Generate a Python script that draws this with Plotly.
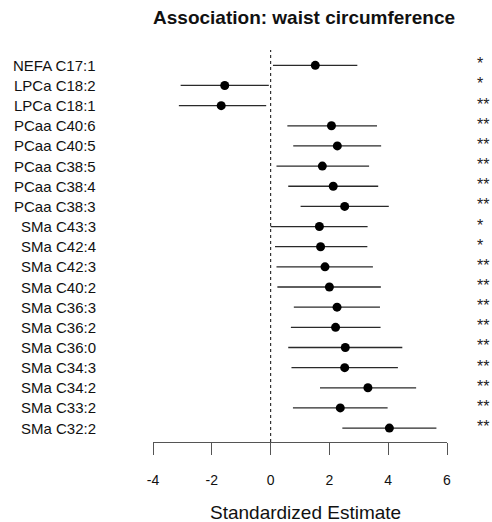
import plotly.graph_objects as go

# Metabolites (top to bottom) and their standardized estimates with 95% CI
metabolites = [
    "NEFA C17:1", "LPCa C18:2", "LPCa C18:1", "PCaa C40:6", "PCaa C40:5",
    "PCaa C38:5", "PCaa C38:4", "PCaa C38:3", "SMa C43:3", "SMa C42:4",
    "SMa C42:3", "SMa C40:2", "SMa C36:3", "SMa C36:2", "SMa C36:0",
    "SMa C34:3", "SMa C34:2", "SMa C33:2", "SMa C32:2",
]
estimate = [1.52, -1.56, -1.68, 2.07, 2.27, 1.76, 2.13, 2.52, 1.66, 1.70,
            1.85, 2.00, 2.26, 2.21, 2.54, 2.52, 3.31, 2.37, 4.04]
ci_low = [0.08, -3.06, -3.12, 0.57, 0.77, 0.20, 0.60, 1.02, 0.00, 0.15,
          0.20, 0.23, 0.79, 0.69, 0.60, 0.71, 1.68, 0.76, 2.44]
ci_high = [2.95, -0.06, -0.15, 3.62, 3.76, 3.35, 3.66, 4.02, 3.30, 3.29,
           3.48, 3.75, 3.72, 3.74, 4.48, 4.33, 4.95, 3.98, 5.64]
significance = ["*", "*", "**", "**", "**", "**", "**", "**", "*", "*",
                "**", "**", "**", "**", "**", "**", "**", "**", "**"]
x_ticks = [-4, -2, 0, 2, 4, 6]

FONT = "Liberation Sans"
rows = list(range(len(metabolites)))

fig = go.Figure()

# Point estimates with confidence intervals
fig.add_trace(go.Scatter(
    x=estimate,
    y=rows,
    mode="markers",
    marker=dict(color="black", size=9),
    error_x=dict(
        type="data",
        symmetric=False,
        array=[h - e for h, e in zip(ci_high, estimate)],
        arrayminus=[e - l for e, l in zip(estimate, ci_low)],
        color="#2a2a2a",
        thickness=1.3,
        width=0,
    ),
    showlegend=False,
    hoverinfo="skip",
))

# Reference line at zero
fig.add_shape(
    type="line", xref="x", yref="paper",
    x0=0, x1=0, y0=0, y1=1,
    line=dict(color="#333", width=1.2, dash="dot"),
)

annotations = []
# Row labels, right-aligned left of the plot
for r, name in zip(rows, metabolites):
    annotations.append(dict(
        text=name, xref="paper", yref="y", x=-0.188, y=r,
        xanchor="right", yanchor="middle", showarrow=False,
        font=dict(family=FONT, size=15, color="#111"),
    ))
# Significance stars, left-aligned right of the plot
for r, s in zip(rows, significance):
    annotations.append(dict(
        text=s, xref="paper", yref="y", x=1.095, y=r,
        xanchor="left", yanchor="middle", showarrow=False, yshift=1.5,
        font=dict(family=FONT, size=16, color="#222"),
    ))
annotations.append(dict(
    text="Standardized Estimate",
    xref="paper", yref="paper",
    x=(305 - 153) / 294, y=-(512.7 - 442) / 392,
    xanchor="center", yanchor="middle",
    showarrow=False,
    font=dict(family=FONT, size=19, color="#111"),
))

fig.update_layout(
    width=492,
    height=522,
    margin=dict(l=153, r=45, t=50, b=80),
    paper_bgcolor="white",
    plot_bgcolor="white",
    font=dict(family=FONT, color="#111"),
    title=dict(
        text="<b>Association: waist circumference</b>",
        font=dict(family=FONT, size=19, color="#111"),
        xref="container", yref="container",
        x=0.618, xanchor="center",
        y=1 - 17 / 522, yanchor="middle",
    ),
    xaxis=dict(
        range=[-4, 6],
        tickvals=x_ticks,
        ticktext=[str(v) for v in x_ticks],
        showgrid=False,
        zeroline=False,
        showline=True,
        linecolor="#555",
        linewidth=1.2,
        ticks="outside",
        ticklen=12,
        tickwidth=1.2,
        tickcolor="#555",
        tickfont=dict(family=FONT, size=14, color="#111"),
        ticklabelstandoff=13,
    ),
    yaxis=dict(
        range=[18.69, -0.76],
        tickvals=rows,
        showticklabels=False,
        showgrid=False,
        zeroline=False,
        showline=False,
        ticks="",
    ),
    annotations=annotations,
)

fig.write_html("out.html")
